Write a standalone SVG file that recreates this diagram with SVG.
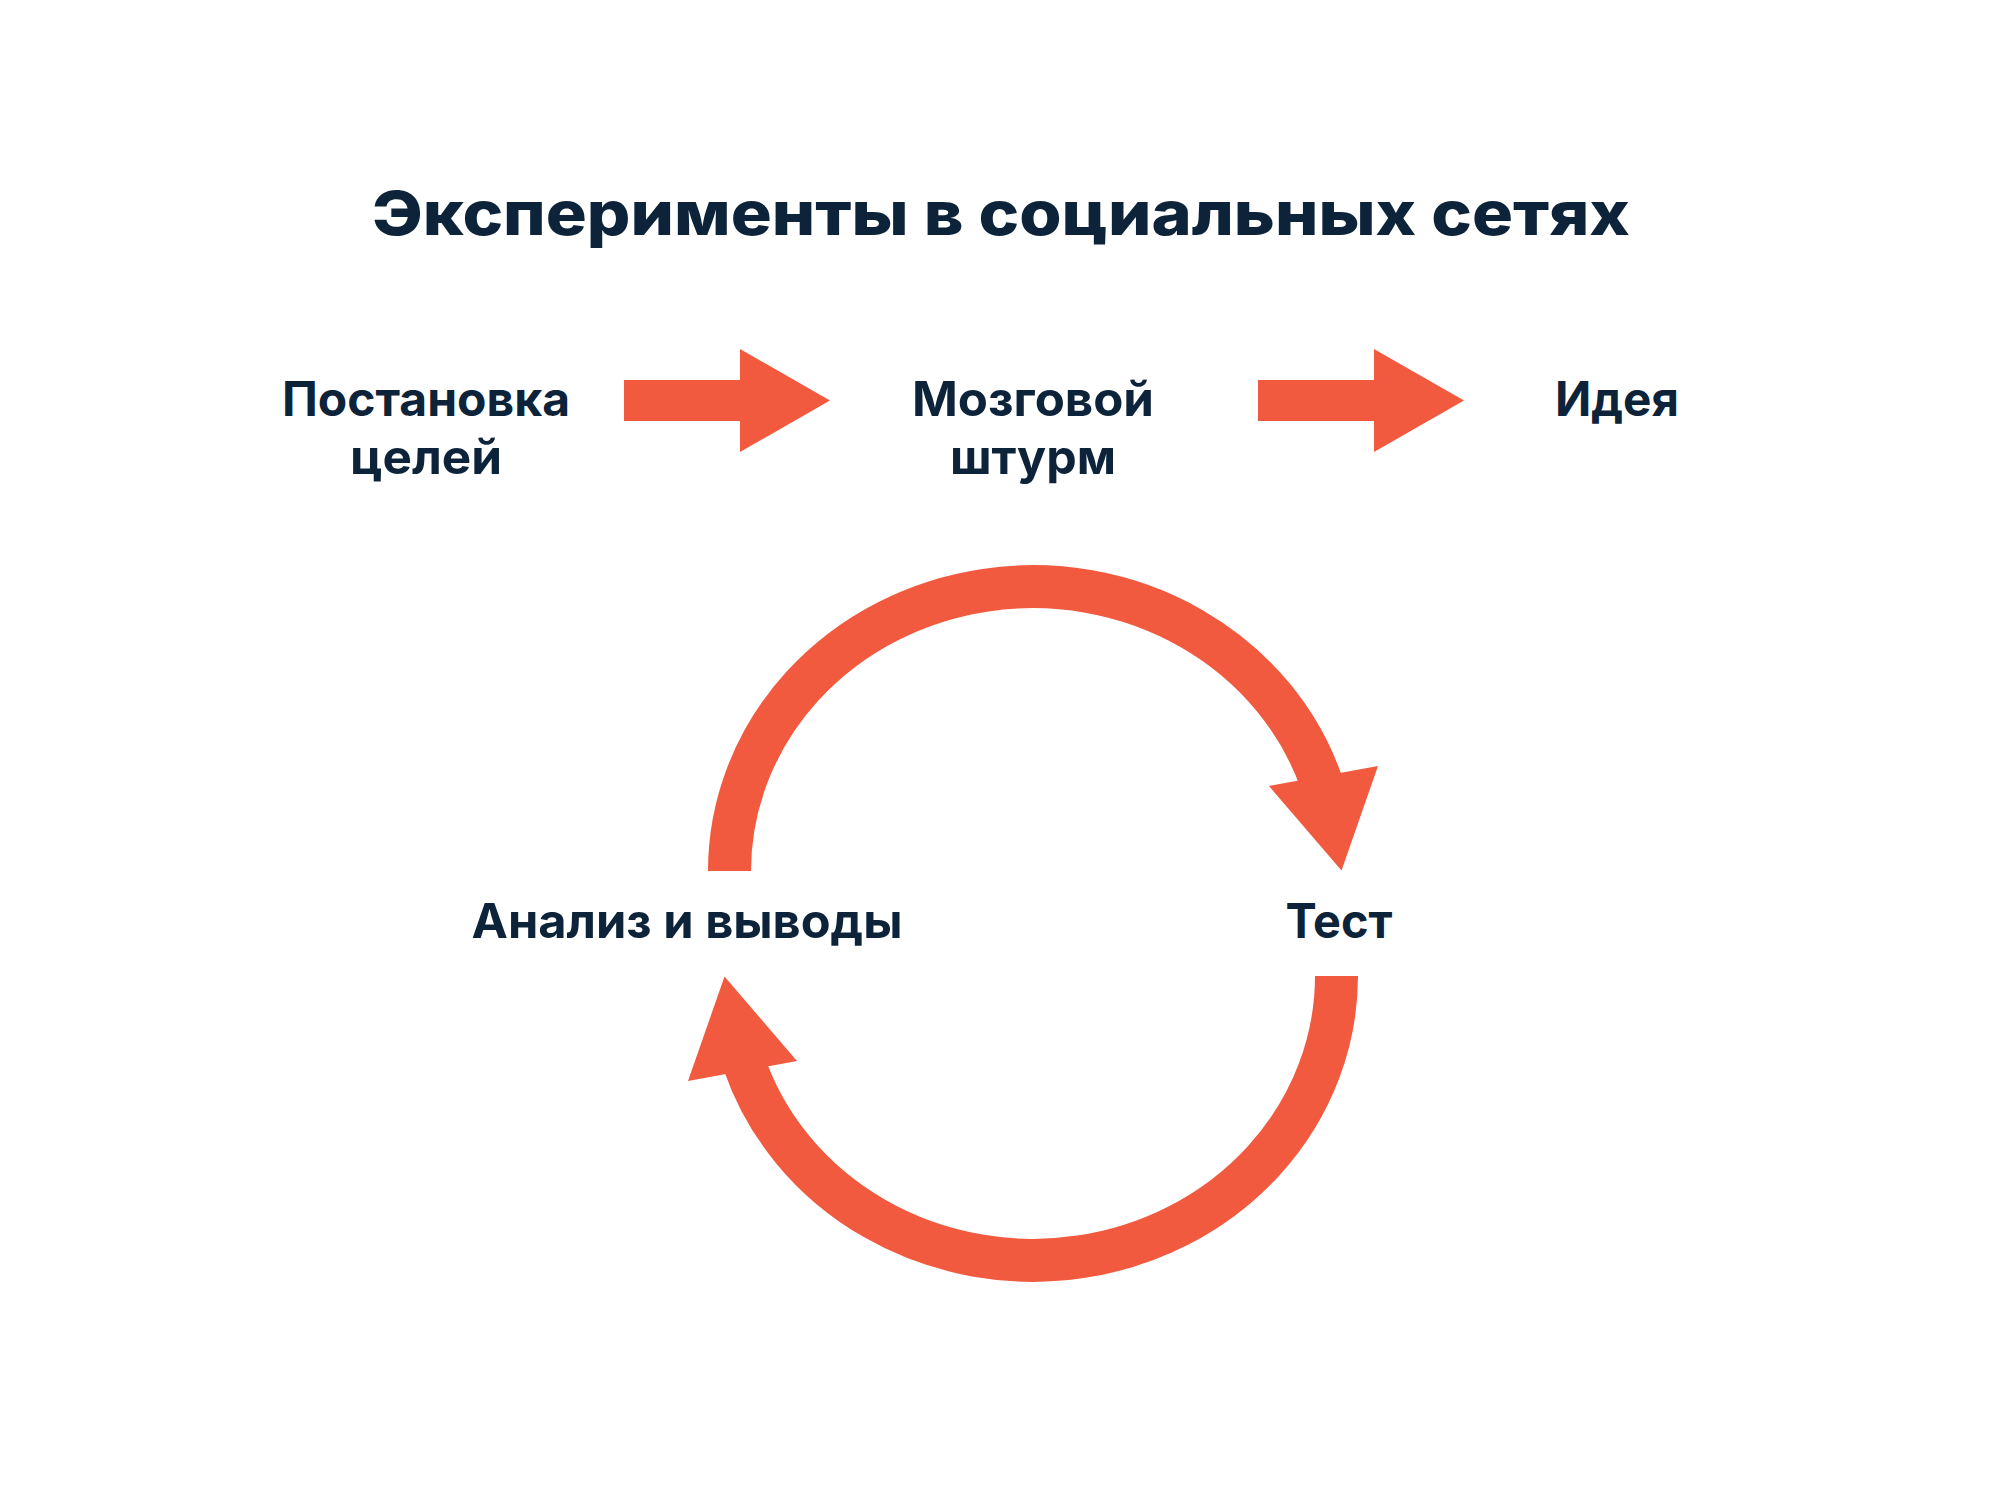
<svg xmlns="http://www.w3.org/2000/svg" width="2000" height="1496" viewBox="0 0 2000 1496">
  <style>
    .t { font-family: Inter, "Noto Sans", "DejaVu Sans", sans-serif; fill: #0d2339; text-anchor: middle; }
    .title { font-size: 61px; font-weight: 800; }
    .lbl { font-size: 48px; font-weight: 700; }
    .fill { fill: #f15a3f; }
    .band { fill: none; stroke: #f15a3f; stroke-width: 43; stroke-linecap: butt; }
  </style>
  <defs>
    <g id="cycleArrow">
      <path class="band" d="M 729.5 871 A 303.5 284.5 0 0 1 1321.6 783.1"/>
      <polygon class="fill" points="1269,786 1378,766 1341.5,870.5"/>
    </g>
  </defs>
  <rect width="2000" height="1496" fill="#ffffff"/>

  <g id="title">
    <text class="t title" x="1001" y="235" textLength="1258" lengthAdjust="spacingAndGlyphs">Эксперименты в социальных сетях</text>
  </g>

  <g id="node-goals">
    <text class="t lbl" x="426" y="416" textLength="288" lengthAdjust="spacingAndGlyphs">Постановка</text>
    <text class="t lbl" x="426" y="474" textLength="152" lengthAdjust="spacingAndGlyphs">целей</text>
  </g>
  <g id="node-brainstorm">
    <text class="t lbl" x="1033" y="416" textLength="242" lengthAdjust="spacingAndGlyphs">Мозговой</text>
    <text class="t lbl" x="1033" y="474" textLength="166" lengthAdjust="spacingAndGlyphs">штурм</text>
  </g>
  <g id="node-idea">
    <text class="t lbl" x="1617" y="416" textLength="124" lengthAdjust="spacingAndGlyphs">Идея</text>
  </g>
  <g id="node-analysis">
    <text class="t lbl" x="687" y="938" textLength="431" lengthAdjust="spacingAndGlyphs">Анализ и выводы</text>
  </g>
  <g id="node-test">
    <text class="t lbl" x="1339" y="938" textLength="107" lengthAdjust="spacingAndGlyphs">Тест</text>
  </g>

  <g id="connectors">
    <polygon class="fill" points="624,380 740,380 740,349 830,400.5 740,452 740,421 624,421"/>
    <polygon class="fill" points="1258,380 1374,380 1374,349 1464,400.5 1374,452 1374,421 1258,421"/>
    <use href="#cycleArrow"/>
    <use href="#cycleArrow" transform="rotate(180 1033 923.5)"/>
  </g>
</svg>
